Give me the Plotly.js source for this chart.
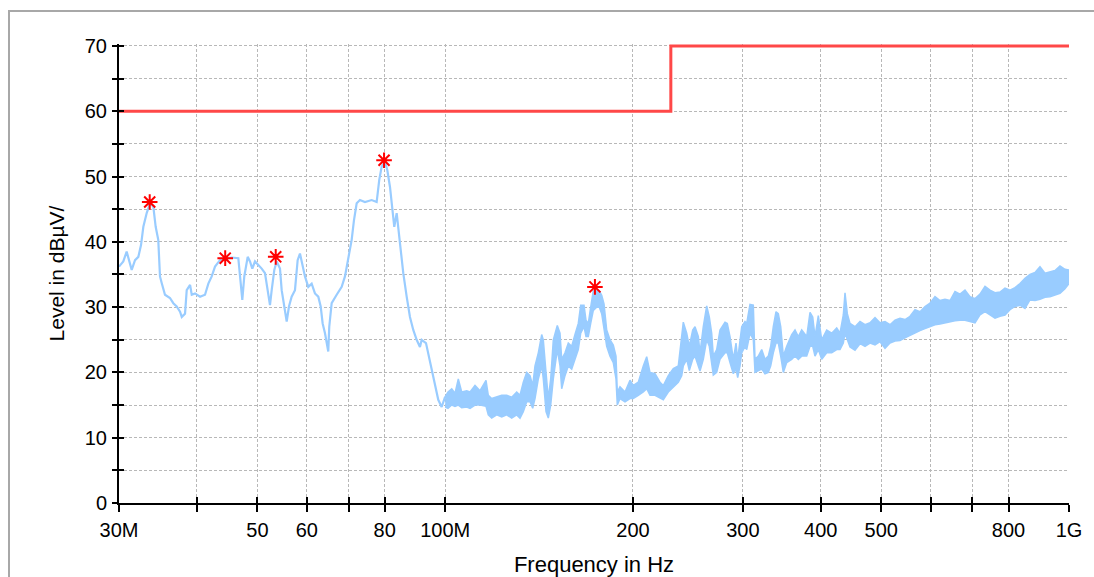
<!DOCTYPE html>
<html>
<head>
<meta charset="utf-8">
<script src="https://cdn.plot.ly/plotly-3.0.1.min.js"></script>
<style>
  html, body { margin: 0; padding: 0; background: #ffffff; overflow: hidden; }
  #frame { position: absolute; left: 8px; top: 10px; width: 1200px; height: 700px;
           border-top: 2px solid #a8a8a8; border-left: 2px solid #a8a8a8; box-sizing: border-box; }
  #chart { position: absolute; left: 0; top: 0; width: 1094px; height: 577px; }
</style>
</head>
<body>
<div id="frame"></div>
<div id="chart"></div>
<script>
// ---- data (MHz, dBµV) ----
const freqA = [30.0,30.48,30.86,31.13,31.44,31.83,32.22,32.54,32.82,33.23,33.64,34.05,34.35,34.68,34.90,35.12,35.55,36.21,36.66,37.12,37.58,37.82,38.28,38.52,39.0,39.24,39.72,40.46,41.21,41.72,42.24,42.76,43.55,44.37,45.48,46.60,46.89,47.29,47.64,48.24,48.65,49.07,49.56,50.17,50.80,51.42,51.94,52.38,52.71,53.22,53.69,54.35,54.69,55.22,55.71,56.18,56.74,57.44,58.01,58.51,59.22,59.6,60.33,61.09,61.84,62.60,63.16,63.62,64.17,64.95,65.19,65.77,67.0,68.25,69.08,69.93,70.81,71.41,72.13,73.01,74.37,76.23,77.65,78.40,79.10,80.07,80.76,81.57,82.38,82.87,83.61,84.10,84.63,85.67,86.75,87.81,88.89,90.01,91.11,91.69,93.16,93.95,95.14,96.30,97.48,98.71,100.0];
const levelA = [36.2,37.0,38.5,37.0,35.7,37.2,37.7,39.5,42.3,44.4,45.9,45.4,42.3,40.3,34.7,33.7,31.9,31.4,30.6,30.1,29.3,28.5,29.0,32.6,33.4,31.9,32.1,31.6,31.9,33.6,34.7,36.2,37.2,37.4,37.6,37.5,34.7,31.1,34.7,37.7,37.0,35.9,37.0,36.5,35.9,35.2,32.6,30.3,32.6,35.7,37.0,35.9,32.6,30.1,27.8,30.1,31.6,32.6,37.2,38.2,36.0,34.7,33.1,33.6,32.1,31.6,30.1,27.5,26.0,23.2,27.0,30.6,31.9,33.1,34.7,37.2,40.3,43.3,45.9,46.4,46.1,46.4,46.1,49.5,51.5,52.3,51.0,48.4,44.9,42.3,44.4,42.3,39.3,35.2,31.6,28.5,26.5,25.0,23.9,25.0,24.5,22.9,20.4,17.8,15.8,14.7,16.3];

const freqB = [100.0,101.05,102.44,103.69,104.96,106.29,108.27,109.60,111.64,113.72,116.26,117.25,118.73,120.95,123.20,125.49,127.83,130.21,131.81,133.42,135.11,136.76,138.13,139.31,141.02,142.80,143.65,145.09,146.32,147.62,149.05,151.26,152.78,153.74,155.62,157.53,159.52,161.47,163.45,164.91,166.93,168.16,169.60,171.11,172.76,174.94,176.63,178.20,179.72,181.52,183.74,185.99,187.85,188.76,190.65,194.20,197.82,200.24,203.97,207.77,210.40,212.98,216.95,220.99,223.69,227.86,232.10,236.43,239.42,240.83,243.87,246.23,249.34,251.46,254.54,256.15,259.28,262.56,265.09,267.45,269.03,272.43,275.77,280.91,283.30,286.14,289.65,292.55,294.39,296.90,298.77,302.43,304.33,308.06,311.84,313.80,317.65,321.66,325.60,329.59,332.53,335.73,339.10,341.99,345.03,348.36,352.76,359.33,363.73,368.19,372.84,379.79,384.44,388.29,391.60,396.40,401.41,408.88,416.50,424.26,429.46,434.72,437.46,441.19,445.61,453.91,462.36,470.97,479.74,488.69,497.79,507.06,516.50,526.12,535.92,545.90,556.07,566.43,576.98,587.73,598.67,609.82,621.18,632.75,644.54,656.54,668.77,681.22,693.91,706.83,720.00,733.41,747.07,760.98,775.15,789.59,804.30,819.28,834.54,850.08,865.91,882.04,898.47,915.20,932.25,949.61,967.30,985.31,1000.0];
const levelBHi = [16.3,17.0,17.5,16.8,19.0,17.0,17.2,17.0,18.0,17.2,18.8,16.5,16.0,16.2,16.5,16.5,16.2,17.0,16.5,18.5,20.0,19.5,18.0,21.0,23.0,25.8,25.0,20.0,16.0,19.0,25.0,27.2,26.0,22.0,23.0,24.5,24.0,25.8,27.5,30.3,30.3,28.0,27.5,30.0,32.5,32.8,32.5,31.8,30.5,26.5,25.0,24.2,22.5,17.0,17.8,17.0,18.8,18.0,18.5,21.0,22.4,20.0,19.8,18.5,18.0,19.5,20.6,21.0,25.8,27.7,26.0,24.0,26.5,27.0,25.5,23.0,27.0,30.2,28.5,26.0,22.5,23.5,26.5,27.7,27.5,25.5,22.0,24.5,22.0,25.5,27.0,27.8,27.5,30.4,30.3,22.0,22.5,23.5,22.0,22.5,24.0,27.0,29.3,29.0,27.0,22.5,24.0,25.8,26.5,25.5,26.5,25.5,29.2,28.5,25.5,28.7,25.0,26.5,26.0,26.8,26.0,28.8,32.2,29.0,27.5,27.0,27.8,27.3,27.6,28.4,27.6,27.8,27.3,28.0,28.3,28.1,28.6,29.6,29.3,30.1,30.6,31.6,31.0,31.2,31.0,32.4,32.0,32.6,31.6,31.3,32.0,33.2,32.6,32.2,32.3,32.9,32.6,33.0,33.6,34.4,35.0,35.3,36.2,35.2,35.4,35.6,36.3,35.8,35.7];
const levelBLo = [14.7,14.5,15.0,14.8,15.0,14.6,14.7,14.5,15.0,15.0,14.8,13.5,13.0,13.5,13.2,13.5,13.0,13.5,13.0,14.0,15.5,15.5,14.5,16.0,19.0,21.0,19.0,14.0,13.0,15.0,19.0,23.5,21.0,17.5,19.5,21.0,20.5,22.0,23.5,26.0,27.0,25.5,25.5,27.5,29.5,30.0,30.0,29.0,27.0,24.0,22.5,21.5,19.0,15.0,16.0,15.5,16.0,16.0,16.5,17.0,17.5,16.5,16.5,16.0,15.8,17.0,17.8,18.5,19.5,21.0,22.0,20.3,22.0,22.5,21.0,20.2,22.0,25.0,24.0,21.0,19.6,20.0,22.0,23.0,23.0,21.5,19.8,20.5,19.2,21.0,23.0,24.0,23.5,26.0,25.0,20.0,20.3,20.5,19.8,20.0,21.0,23.0,24.5,24.5,22.5,20.0,21.5,22.0,22.5,22.0,22.5,22.5,24.0,24.0,22.5,23.5,22.0,23.0,23.0,23.5,23.5,24.5,26.0,25.0,23.9,23.4,24.4,24.0,24.5,24.2,24.7,23.7,24.5,24.8,24.9,25.3,25.7,26.0,26.4,26.7,27.0,27.3,27.4,27.6,27.8,27.9,28.0,28.0,27.8,27.6,28.8,29.3,28.8,28.3,28.6,28.8,29.6,30.1,30.3,29.8,31.1,31.0,31.2,31.5,31.6,31.8,32.1,32.8,33.6];

const peakFreq  = [33.6, 44.4, 53.5, 79.8, 173.8];
const peakLevel = [46.1, 37.5, 37.7, 52.5, 33.1];

const limitFreq  = [30, 230, 230, 1000];
const limitLevel = [60, 60, 70, 70];

const xTickVals = [30,40,50,60,70,80,100,200,300,400,500,600,700,800,1000];
const xTickText = ['30M','','50','60','','80','100M','200','300','400','500','','','800','1G'];
const yTickVals = [0,5,10,15,20,25,30,35,40,45,50,55,60,65,70];
const yTickText = ['0','','10','','20','','30','','40','','50','','60','','70'];

// ---- chart ----
const traceColor = '#99ccff';
const tickFont = {family: 'Liberation Sans, Arial, sans-serif', size: 20, color: '#000000'};
const xRange = [Math.log10(30), Math.log10(1000)];
const yRange = [0, 70.3];

const traces = [
  {x: freqA, y: levelA, type: 'scatter', mode: 'lines',
   line: {color: traceColor, width: 2.2}, hoverinfo: 'skip', showlegend: false},
  {x: freqB, y: levelBLo, type: 'scatter', mode: 'lines',
   line: {color: traceColor, width: 1.5}, hoverinfo: 'skip', showlegend: false},
  {x: freqB, y: levelBHi, type: 'scatter', mode: 'lines', fill: 'tonexty', fillcolor: traceColor,
   line: {color: traceColor, width: 1.5}, hoverinfo: 'skip', showlegend: false},
  {x: limitFreq, y: limitLevel, type: 'scatter', mode: 'lines', xaxis: 'x2', yaxis: 'y2',
   line: {color: '#ff4848', width: 3}, hoverinfo: 'skip', showlegend: false},
  {x: peakFreq, y: peakLevel, type: 'scatter', mode: 'markers', xaxis: 'x2', yaxis: 'y2',
   marker: {symbol: 'asterisk-open', size: 13, color: '#ff0000', line: {color: '#ff0000', width: 2}},
   cliponaxis: false, hoverinfo: 'skip', showlegend: false}
];

const gridStyle = {showgrid: true, gridcolor: '#b8b8b8', gridwidth: 1, griddash: '3px,2px'};

const layout = {
  width: 1094, height: 577,
  margin: {l: 119, r: 25, t: 44, b: 74, pad: 0},
  paper_bgcolor: 'rgba(0,0,0,0)',
  plot_bgcolor: '#ffffff',
  showlegend: false,
  xaxis: Object.assign({
    type: 'log', range: xRange, tickmode: 'array', tickvals: xTickVals, ticktext: xTickText,
    ticks: 'outside', ticklen: 7, tickwidth: 2, tickcolor: '#000000',
    showline: true, linecolor: '#000000', linewidth: 2, zeroline: false,
    tickfont: tickFont, ticklabelstandoff: 1, automargin: false,
    title: {text: 'Frequency in Hz', font: {family: 'Liberation Sans, Arial, sans-serif', size: 22, color: '#000000'}, standoff: 27}
  }, gridStyle),
  yaxis: Object.assign({
    range: yRange, tickmode: 'array', tickvals: yTickVals, ticktext: yTickText,
    ticks: 'outside', ticklen: 5, tickwidth: 2, tickcolor: '#000000',
    showline: true, linecolor: '#000000', linewidth: 2, zeroline: false,
    tickfont: tickFont, ticklabelstandoff: 1, automargin: false,
    title: {text: 'Level in dBµV/', font: {family: 'Liberation Sans, Arial, sans-serif', size: 21, color: '#000000'}, standoff: 14}
  }, gridStyle),
  xaxis2: {
    type: 'log', range: xRange, overlaying: 'x', anchor: 'y', side: 'bottom',
    tickmode: 'array', tickvals: xTickVals, ticks: 'inside', ticklen: 6, tickwidth: 2, tickcolor: '#000000',
    showticklabels: false, showgrid: false, showline: false, zeroline: false
  },
  yaxis2: {
    range: yRange, overlaying: 'y', anchor: 'x', side: 'left',
    tickmode: 'array', tickvals: yTickVals, ticks: 'inside', ticklen: 5, tickwidth: 2, tickcolor: '#000000',
    showticklabels: false, showgrid: false, showline: false, zeroline: false
  }
};

Plotly.newPlot('chart', traces, layout, {staticPlot: true, displayModeBar: false});
</script>
</body>
</html>
